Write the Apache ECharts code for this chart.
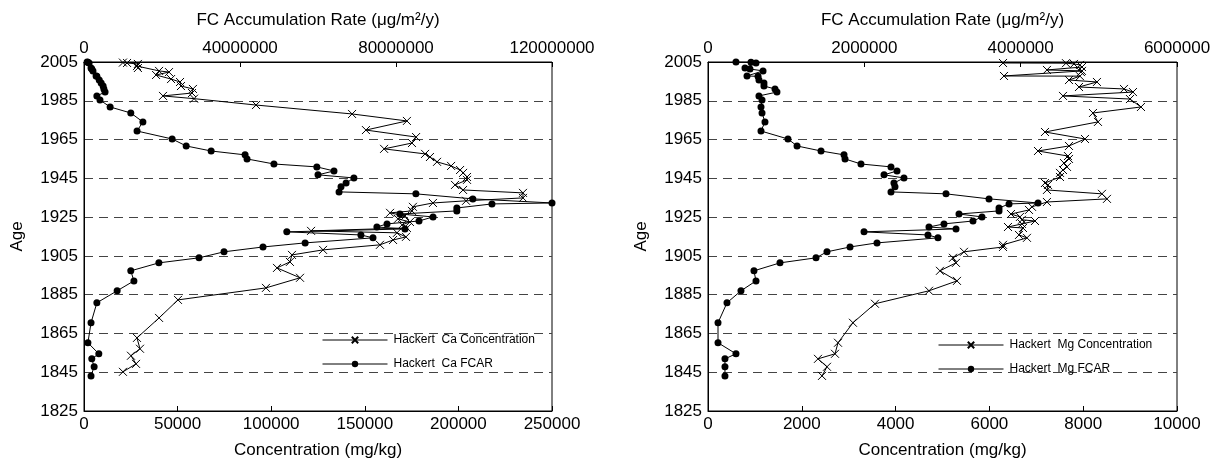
<!DOCTYPE html>
<html>
<head>
<meta charset="utf-8">
<script src="https://cdn.jsdelivr.net/npm/echarts@6/dist/echarts.min.js"></script>
<style>html,body{margin:0;padding:0;background:#fff}#c{width:1215px;height:466px}</style>
</head>
<body>
<div id="c"></div>
<script>
// ---------- DATA ----------
const caConcAge = [2004.7,2004.5,2004,2002.9,2001.9,2000.4,1999.8,1998.3,1996.2,1994.7,1992.6,1991.1,1989,1987.5,1986.1,1982.8,1978.2,1974.6,1969.9,1966.3,1963.2,1960.2,1957.6,1956,1953.5,1951.4,1949.3,1947.8,1945.7,1944.2,1941.6,1939,1937.5,1934.9,1933.4,1932.3,1930.3,1928.2,1927.2,1925.6,1924.1,1922.5,1921,1919.4,1917.9,1916.9,1914.8,1913.2,1910.7,1908.1,1905.5,1901.9,1898.8,1893.7,1888.5,1882.3,1873,1862.7,1857.1,1853.5,1849.3,1845.2];
const caConc = [20800,23000,28800,28300,28800,40100,45400,38500,46500,51300,51800,58200,57700,42200,58800,91900,143200,172500,150600,177400,175200,160300,182200,184800,188600,196100,200900,202500,204600,204600,198200,202500,234500,234500,204100,186400,175700,175200,163500,171500,167700,174100,169900,172500,121300,167200,172000,165100,158100,127700,111100,110000,103100,115400,97200,50200,40100,28300,29900,25100,27800,20800];

const fcarAge = [2005,2004.9,2004.5,2001.9,2001.4,2000.4,1997.8,1997.6,1995.7,1994.2,1992.6,1991.1,1989.5,1987.5,1985.4,1981.8,1978.7,1974.1,1969.4,1965.3,1961.7,1959.1,1957.1,1955,1952.4,1950.9,1948.8,1946.8,1945.2,1942.6,1940.6,1938,1937,1934.4,1932.3,1931.8,1929.7,1928.2,1926.6,1925.1,1923,1921.5,1919.9,1918.9,1917.4,1915.8,1914.3,1911.7,1909.6,1907.1,1904,1901.4,1897.3,1892.1,1887,1880.8,1870.5,1860.2,1854.5,1851.9,1847.8,1843.1];
const caFcar = [800000,1000000,1300000,1800000,2000000,2300000,3100000,3300000,3900000,4400000,4900000,5100000,5400000,3300000,4100000,6700000,12000000,15100000,13600000,22600000,26200000,32600000,41300000,41800000,48700000,59700000,64100000,60000000,69200000,67200000,65900000,65400000,85100000,99700000,120000000,104600000,95600000,95600000,81000000,89500000,85900000,77700000,75100000,82300000,52000000,71000000,74100000,56700000,45900000,35900000,29500000,19200000,12000000,12800000,8500000,3300000,1800000,1000000,3800000,2000000,2600000,1800000];
const mgFcar = [358000,550000,614000,473000,537000,704000,499000,640000,652000,716000,716000,857000,882000,652000,691000,678000,691000,729000,678000,1023000,1139000,1446000,1740000,1753000,1957000,2341000,2418000,2252000,2507000,2379000,2392000,2341000,3045000,3595000,4222000,3851000,3723000,3723000,3211000,3505000,3390000,3019000,2827000,3173000,1996000,2814000,2942000,2162000,1817000,1522000,1382000,921000,588000,614000,422000,243000,128000,128000,358000,217000,217000,217000];

const mgConcAge = [2004.5,2004.4,2004,2003.5,2002.4,2000.9,2000.4,1999.8,1997.8,1997.7,1995.7,1994.7,1992.1,1991.1,1989.5,1987.5,1985.9,1981.8,1978.7,1974.1,1968.9,1965.3,1961.7,1959.1,1956.5,1955,1952.9,1950.9,1949.3,1947.8,1945.7,1942.6,1941.6,1939,1937,1934.4,1932.8,1930.3,1928.7,1926.6,1925.1,1923.6,1923,1921.5,1919.9,1919.4,1915.8,1914.3,1910.7,1909.6,1907.1,1904,1901.4,1897.3,1892.1,1887,1880.3,1870.5,1860.2,1854.5,1851.9,1847.8,1843.1];
const mgConc = [6290,7633,7803,7931,7974,7227,7974,7952,6311,7931,7697,8293,7910,8869,9061,7569,8997,9232,8208,8315,7185,8038,7697,7036,7675,7697,7590,7654,7569,7505,7505,7185,7249,7227,8400,8507,7227,6908,6844,6460,6652,6694,6972,6694,6396,6716,6631,6801,6290,6290,5458,5223,5287,4946,5309,4712,3560,3091,2772,2708,2345,2537,2431];

const ageTicks = {min:1825, max:2005, interval:20};
const leftConcAxis = {min:0, max:250000, interval:50000};
const leftFcarAxis = {min:0, max:120000000, interval:40000000};
const rightConcAxis = {min:0, max:10000, interval:2000};
const rightFcarAxis = {min:0, max:6000000, interval:2000000};
const names = {
  caConc:'Hackert  Ca Concentration', caFcar:'Hackert  Ca FCAR',
  mgConc:'Hackert  Mg Concentration', mgFcar:'Hackert  Mg FCAR',
  top:'FC Accumulation Rate (μg/m²/y)', bottom:'Concentration (mg/kg)', age:'Age'
};

// ---------- CHART ----------
const FONT = 'Liberation Sans, Arial, sans-serif';
const CROSS = 'path://M0 0L10 10M10 0L0 10';
const zip = (xs, ys) => xs.map((x, i) => [x, ys[i]]);
const plain = v => String(v);

function xAx(grid, pos, rng, name, gap){
  return {
    type:'value', gridIndex:grid, position:pos, min:rng.min, max:rng.max, interval:rng.interval,
    name:name, nameLocation:'middle', nameGap:gap,
    nameTextStyle:{fontFamily:FONT, fontSize:17, color:'#000'},
    axisLine:{show:true, onZero:false, lineStyle:{color:'#000', width:1}},
    axisTick:{show:true, inside:true, length:5, lineStyle:{color:'#000'}},
    axisLabel:{fontFamily:FONT, fontSize:17, color:'#000', margin:5, formatter:plain},
    splitLine:{show:false}
  };
}
function yAx(grid){
  return {
    type:'value', gridIndex:grid, min:ageTicks.min, max:ageTicks.max, interval:ageTicks.interval,
    name:names.age, nameLocation:'middle', nameGap:58, nameRotate:90,
    nameTextStyle:{fontFamily:FONT, fontSize:17, color:'#000'},
    axisLine:{show:true, onZero:false, lineStyle:{color:'#000', width:1}},
    axisTick:{show:false},
    axisLabel:{fontFamily:FONT, fontSize:17, color:'#000', margin:6, formatter:plain},
    splitLine:{show:true, lineStyle:{color:'#444', type:[9,6], width:1}}
  };
}
function ser(name, xi, yi, data, cross){
  return {
    type:'line', name:name, xAxisIndex:xi, yAxisIndex:yi, data:data,
    symbol: cross ? CROSS : 'circle', symbolSize: cross ? 8 : 7,
    lineStyle:{color:'#000', width:1},
    itemStyle:{color:'#000', borderColor:'#000', borderWidth: cross ? 1 : 0},
    showSymbol:true, animation:false, z: cross ? 3 : 4
  };
}
function leg(left, top, data){
  return {left:left, top:top, padding:0, orient:'vertical', itemWidth:65, itemHeight:8, itemGap:12,
    lineStyle:{width:1, color:'#000'}, data:data,
    textStyle:{fontFamily:FONT, fontSize:12, color:'#000', padding:[0,0,0,1]}};
}

const chart = echarts.init(document.getElementById('c'), null, {renderer:'canvas'});
chart.setOption({
  animation:false,
  backgroundColor:'#fff',
  grid:[
    {left:84, top:62, width:468, height:349, show:true, borderColor:'#000', borderWidth:1, containLabel:false},
    {left:708, top:62, width:469, height:349, show:true, borderColor:'#000', borderWidth:1, containLabel:false}
  ],
  xAxis:[
    xAx(0,'bottom',leftConcAxis,names.bottom,31),
    xAx(0,'top',leftFcarAxis,names.top,33),
    xAx(1,'bottom',rightConcAxis,names.bottom,31),
    xAx(1,'top',rightFcarAxis,names.top,33)
  ],
  yAxis:[yAx(0), yAx(1)],
  legend:[
    leg(322, 334, [names.caConc, names.caFcar]),
    leg(938, 339, [names.mgConc, names.mgFcar])
  ],
  series:[
    ser(names.caConc, 0, 0, zip(caConc, caConcAge), true),
    ser(names.caFcar, 1, 0, zip(caFcar, fcarAge), false),
    ser(names.mgConc, 2, 1, zip(mgConc, mgConcAge), true),
    ser(names.mgFcar, 3, 1, zip(mgFcar, fcarAge), false)
  ]
});
</script>
</body>
</html>
